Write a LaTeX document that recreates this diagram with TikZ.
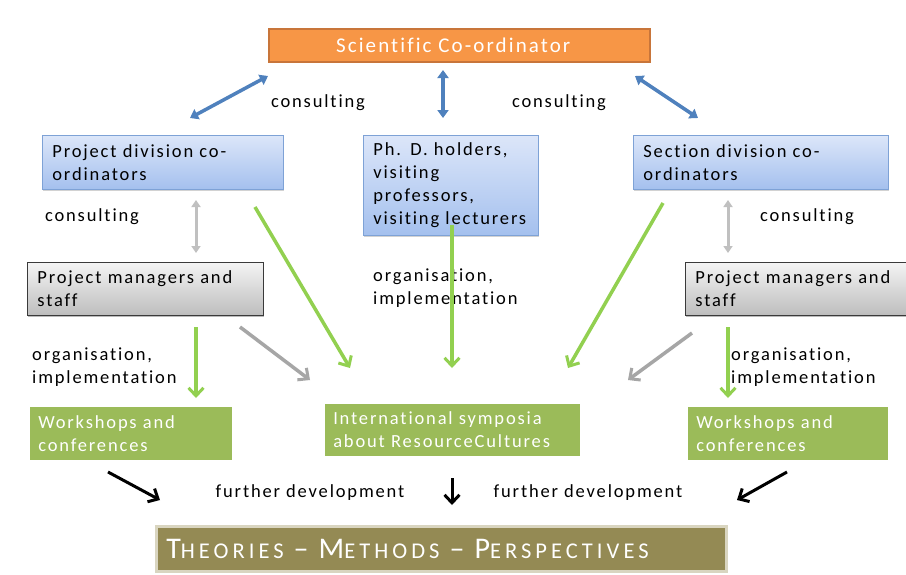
\documentclass[tikz,border=0pt]{standalone}
\usepackage{fontspec}
\setmainfont[LetterSpace=10,Ligatures={NoCommon}]{Carlito}
\usetikzlibrary{arrows.meta,shadows}
\definecolor{orfill}{HTML}{F79646}
\definecolor{ordraw}{HTML}{C8753A}
\definecolor{bltop}{HTML}{DCE6F9}
\definecolor{blbot}{HTML}{A4C0EE}
\definecolor{bldraw}{HTML}{7EA2D6}
\definecolor{grtop}{HTML}{F4F4F4}
\definecolor{grbot}{HTML}{BDBDBD}
\definecolor{grdraw}{HTML}{3A3A3A}
\definecolor{gnfill}{HTML}{9BBB59}
\definecolor{olfill}{HTML}{948A54}
\definecolor{oldraw}{HTML}{D9D5C0}
\definecolor{arblue}{HTML}{4F81BD}
\definecolor{argreen}{HTML}{92D050}
\definecolor{argray}{HTML}{A6A6A6}
\definecolor{arlgray}{HTML}{C0C0C0}
\newcommand\fsc[2]{#1{\fontsize{22.5}{22.5}\selectfont #2}}
\tikzset{
  txt/.style={font=\fontsize{18.5}{23}\selectfont},
  boxbase/.style={anchor=north west, inner xsep=10pt, inner ysep=0pt, align=left, txt},
  orbox/.style={boxbase, fill=orfill, draw=ordraw, line width=1.5pt, text=white, align=center, font=\fontsize{21}{23}\selectfont},
  blbox/.style={boxbase, top color=bltop, bottom color=blbot, draw=bldraw, line width=0.8pt,
     drop shadow={shadow xshift=1pt, shadow yshift=-1.5pt, fill=black!35, opacity=0.5}},
  grbox/.style={boxbase, top color=grtop, bottom color=grbot, draw=grdraw, line width=0.8pt,
     drop shadow={shadow xshift=1pt, shadow yshift=-1.5pt, fill=black!45, opacity=0.6}},
  gnbox/.style={boxbase, fill=gnfill, draw=white, line width=2.5pt, text=white,
     drop shadow={shadow xshift=1pt, shadow yshift=-1.5pt, fill=black!40, opacity=0.6}},
  olbox/.style={boxbase, fill=olfill, draw=oldraw, line width=2.5pt, text=white,
     drop shadow={shadow xshift=1pt, shadow yshift=-1.5pt, fill=black!40, opacity=0.6}},
  lbl/.style={txt, inner sep=0pt},
  bluearr/.style={draw=arblue, line width=3.5pt, {Triangle[length=8pt,width=11pt]}-{Triangle[length=8pt,width=11pt]}},
  lgrayarr/.style={draw=arlgray, line width=3pt, {Triangle[length=7pt,width=9pt]}-{Triangle[length=7pt,width=9pt]}},
  vhead/.style={-{Straight Barb[length=8pt,width=15pt,line width=3pt]}},
  greenarr/.style={draw=argreen, line width=3.5pt, vhead},
  grayarr/.style={draw=argray, line width=3.5pt, vhead},
  blackarr/.style={draw=black, line width=3pt, vhead},
}
\begin{document}
\begin{tikzpicture}[x=1pt,y=-1pt]
\useasboundingbox (0,0) rectangle (906,574);
\fill[white] (0,0) rectangle (906,574);
% boxes
\node[orbox, minimum width=381pt, minimum height=33pt] (sc) at (268,28) {Scientific Co-ordinator\hspace*{12pt}};
\node[blbox, minimum width=241pt, minimum height=54pt, text width=221pt] (pd) at (42,135) {Project division co-\\ordinators};
\node[blbox, minimum width=175pt, minimum height=100pt, text width=155pt] (ph) at (363,135) {Ph. D. holders,\\visiting\\professors,\\visiting lecturers};
\node[blbox, minimum width=255pt, minimum height=54pt, text width=235pt] (sd) at (633,135) {Section division co-\\ordinators};
\node[grbox, minimum width=236pt, minimum height=53pt, text width=216pt] (pml) at (27,262) {Project managers and\\staff};
\node[grbox, minimum width=222pt, minimum height=53pt, text width=210pt] (pmr) at (685,262) {Project managers and\\staff};
\node[gnbox, minimum width=205pt, minimum height=56pt, text width=185pt] (wl) at (27,404) {Workshops and\\conferences};
\node[gnbox, minimum width=258pt, minimum height=55pt, text width=238pt] (is) at (322,401) {International symposia\\about ResourceCultures};
\node[gnbox, minimum width=203pt, minimum height=56pt, text width=183pt] (wr) at (685,404) {Workshops and\\conferences};
\node[olbox, minimum width=570pt, minimum height=45pt, text width=550pt, inner xsep=10pt, font=\fontsize{30}{30}\addfontfeatures{LetterSpace=18}\selectfont] (tm) at (155,525) {\fsc{T}{HEORIES} -- \fsc{M}{ETHODS} -- \fsc{P}{ERSPECTIVES}};
% labels
\node[lbl] (c1) at (318,103) {consulting};
\node[lbl] (c2) at (559,103) {consulting};
\node[lbl] (c3) at (92,217) {consulting};
\node[lbl] (c4) at (807,217) {consulting};
\node[lbl, anchor=west, align=left] (o1) at (32,367) {organisation,\\implementation};
\node[lbl, anchor=west, align=left] (o2) at (373,288) {organisation,\\implementation};
\node[lbl, anchor=west, align=left] (o3) at (731,367) {organisation,\\implementation};
\node[lbl] (f1) at (310,493) {further development};
\node[lbl] (f2) at (588,493) {further development};
% arrow endpoints
\coordinate (b1a) at (268,76); \coordinate (b1b) at (190,118);
\coordinate (b2a) at (443,70); \coordinate (b2b) at (443,118);
\coordinate (b3a) at (635,76); \coordinate (b3b) at (698,118);
\coordinate (l1a) at (196,200); \coordinate (l1b) at (196,253);
\coordinate (l2a) at (728,200); \coordinate (l2b) at (728,253);
\coordinate (g1a) at (255,207); \coordinate (g1b) at (350,368);
\coordinate (g2a) at (452,225); \coordinate (g2b) at (452,368);
\coordinate (g3a) at (663,203); \coordinate (g3b) at (568,368);
\coordinate (g4a) at (196,327); \coordinate (g4b) at (196,398);
\coordinate (g5a) at (728,327); \coordinate (g5b) at (728,398);
\coordinate (r1a) at (240,327); \coordinate (r1b) at (310,380);
\coordinate (r2a) at (692,333); \coordinate (r2b) at (628,380);
\coordinate (k1a) at (108,472); \coordinate (k1b) at (160,500);
\coordinate (k2a) at (452,478); \coordinate (k2b) at (452,505);
\coordinate (k3a) at (787,472); \coordinate (k3b) at (737,500);
% arrows
\draw[bluearr] (b1a) -- (b1b);
\draw[bluearr] (b2a) -- (b2b);
\draw[bluearr] (b3a) -- (b3b);
\draw[lgrayarr] (l1a) -- (l1b);
\draw[lgrayarr] (l2a) -- (l2b);
\draw[greenarr] (g1a) -- (g1b);
\draw[greenarr] (g2a) -- (g2b);
\draw[greenarr] (g3a) -- (g3b);
\draw[greenarr] (g4a) -- (g4b);
\draw[greenarr] (g5a) -- (g5b);
\draw[grayarr] (r1a) -- (r1b);
\draw[grayarr] (r2a) -- (r2b);
\draw[blackarr] (k1a) -- (k1b);
\draw[blackarr] (k2a) -- (k2b);
\draw[blackarr] (k3a) -- (k3b);
\end{tikzpicture}
\end{document}
